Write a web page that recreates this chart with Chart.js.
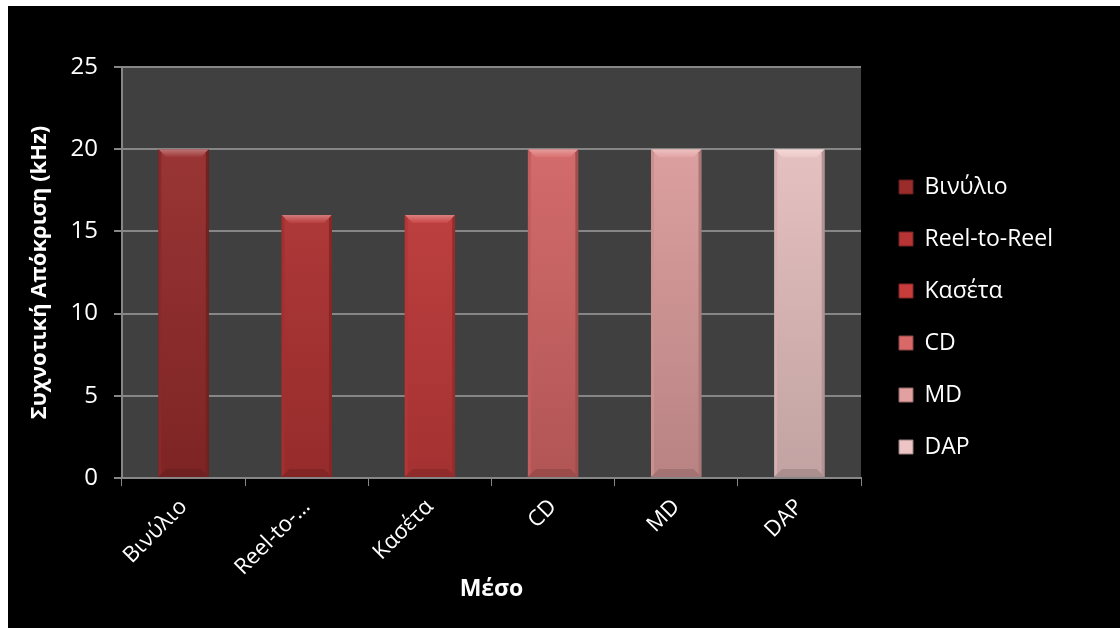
<!DOCTYPE html>
<html>
<head>
<meta charset="utf-8">
<script src="https://cdn.jsdelivr.net/npm/chart.js@4/dist/chart.umd.min.js"></script>
<style>
    html, body { margin: 0; padding: 0; background: #ffffff; }
    #wrap { position: absolute; left: 8px; top: 6px; width: 1112px; height: 622px; background: #000000; }
</style>
</head>
<body>
<div id="wrap"><canvas id="myChart" width="1112" height="622"></canvas></div>
<script>
// Δεδομένα του γραφήματος
const categories = ['Βινύλιο', 'Reel-to-Reel', 'Κασέτα', 'CD', 'MD', 'DAP'];
const responseKHz = [20, 16, 16, 20, 20, 20];
const yTicks = [0, 5, 10, 15, 20, 25];
const barColors = ['#9a2c2c', '#b73434', '#c83c3c', '#d96868', '#e2a0a0', '#edc5c5'];

const fontFamily = "'Open Sans', 'DejaVu Sans', sans-serif";

// Σκουραίνει ή ανοίγει ένα χρώμα
function shade(hex, f) {
    const n = parseInt(hex.slice(1), 16);
    let r = (n >> 16) & 255, g = (n >> 8) & 255, b = n & 255;
    if (f < 0) {
        r = Math.round(r * (1 + f)); g = Math.round(g * (1 + f)); b = Math.round(b * (1 + f));
    } else {
        r = Math.round(r + (255 - r) * f); g = Math.round(g + (255 - g) * f); b = Math.round(b + (255 - b) * f);
    }
    return `rgb(${r},${g},${b})`;
}

// Φάσμα από πάνω προς τα κάτω για κάθε μπάρα
function barFill(context) {
    const chart = context.chart;
    const area = chart.chartArea;
    const base = barColors[context.dataIndex];
    if (!area) return base;
    const grad = chart.ctx.createLinearGradient(0, area.top, 0, area.bottom);
    grad.addColorStop(0, shade(base, 0.06));
    grad.addColorStop(1, shade(base, -0.18));
    return grad;
}

// Ανάγλυφο στις μπάρες (πάνω λοξότμηση, σκούρες άκρες)
const bevelPlugin = {
    id: 'bevel',
    afterDatasetsDraw(chart) {
        const ctx = chart.ctx;
        const meta = chart.getDatasetMeta(0);
        meta.data.forEach((bar, i) => {
            const left = bar.x - bar.width / 2;
            const right = bar.x + bar.width / 2;
            const top = bar.y;
            const bottom = bar.base;
            const b = 8;
            const base = barColors[i];
            ctx.save();
            // πάνω
            const g = ctx.createLinearGradient(0, top, 0, top + b);
            g.addColorStop(0, shade(base, 0.35));
            g.addColorStop(1, shade(base, 0.05));
            ctx.fillStyle = g;
            ctx.beginPath();
            ctx.moveTo(left, top); ctx.lineTo(right, top);
            ctx.lineTo(right - b, top + b); ctx.lineTo(left + b, top + b);
            ctx.closePath(); ctx.fill();
            // αριστερά
            ctx.fillStyle = shade(base, -0.1);
            ctx.beginPath();
            ctx.moveTo(left, top); ctx.lineTo(left + 3, top + 3);
            ctx.lineTo(left + 3, bottom - 3); ctx.lineTo(left, bottom);
            ctx.closePath(); ctx.fill();
            // δεξιά
            ctx.fillStyle = shade(base, -0.25);
            ctx.beginPath();
            ctx.moveTo(right, top); ctx.lineTo(right - 3, top + 3);
            ctx.lineTo(right - 3, bottom - 3); ctx.lineTo(right, bottom);
            ctx.closePath(); ctx.fill();
            // κάτω
            ctx.fillStyle = shade(base, -0.28);
            ctx.beginPath();
            ctx.moveTo(left, bottom); ctx.lineTo(right, bottom);
            ctx.lineTo(right - b, bottom - b); ctx.lineTo(left + b, bottom - b);
            ctx.closePath(); ctx.fill();
            ctx.restore();
        });
    }
};

// Γκρι φόντο της περιοχής σχεδίασης
const plotBgPlugin = {
    id: 'plotBg',
    beforeDraw(chart) {
        const a = chart.chartArea;
        chart.ctx.save();
        chart.ctx.fillStyle = '#404040';
        chart.ctx.fillRect(a.left, a.top, a.right - a.left, a.bottom - a.top);
        chart.ctx.restore();
    }
};

const chartData = {
    labels: categories,
    datasets: [{
        label: 'Συχνοτική Απόκριση',
        data: responseKHz,
        backgroundColor: barFill,
        borderColor: barColors.map(c => shade(c, -0.35)),
        borderWidth: 1,
        categoryPercentage: 1.0,
        barPercentage: 0.41
    }]
};

const config = {
    type: 'bar',
    data: chartData,
    options: {
        responsive: false,
        animation: false,
        layout: { padding: { top: 0, left: 0, right: 57, bottom: 0 } },
        plugins: {
            tooltip: { enabled: false },
            legend: {
                position: 'right',
                maxWidth: 300,
                labels: {
                    color: '#ffffff',
                    font: { family: fontFamily, size: 23 },
                    boxWidth: 14,
                    boxHeight: 14,
                    padding: 29,
                    generateLabels: () => categories.map((c, i) => ({
                        text: c,
                        fillStyle: barColors[i],
                        strokeStyle: shade(barColors[i], -0.35),
                        lineWidth: 1,
                        fontColor: '#ffffff',
                        index: i
                    }))
                }
            }
        },
        scales: {
            x: {
                afterFit: (scale) => { scale.height = 150; },
                grid: {
                    drawOnChartArea: false,
                    drawTicks: true,
                    tickLength: 8,
                    color: '#868686'
                },
                border: { color: '#868686', width: 2 },
                ticks: {
                    color: '#ffffff',
                    font: { family: fontFamily, size: 22 },
                    minRotation: 45,
                    maxRotation: 45,
                    padding: 8,
                    callback: function (value) {
                        const t = this.getLabelForValue(value);
                        return t.length > 9 ? t.slice(0, 8) + '…' : t;
                    }
                },
                title: {
                    display: true,
                    text: 'Μέσο',
                    color: '#ffffff',
                    font: { family: fontFamily, size: 23, weight: 'bold' },
                    padding: { top: 0, bottom: 25 }
                }
            },
            y: {
                min: 0,
                max: 25,
                afterFit: (scale) => { scale.width = 114; },
                afterBuildTicks: (scale) => { scale.ticks = yTicks.map(v => ({ value: v })); },
                grid: {
                    color: '#868686',
                    lineWidth: 2,
                    tickLength: 8
                },
                border: { color: '#868686', width: 2 },
                ticks: {
                    color: '#ffffff',
                    font: { family: fontFamily, size: 24 },
                    padding: 16
                },
                title: {
                    display: true,
                    text: 'Συχνοτική Απόκριση (kHz)',
                    color: '#ffffff',
                    font: { family: fontFamily, size: 22, weight: 'bold' },
                    padding: { top: 19, bottom: 0 }
                }
            },
            // κενό πάνω από την περιοχή σχεδίασης
            gapTop: {
                type: 'linear',
                position: 'top',
                afterFit: (scale) => { scale.height = 61; },
                grid: { display: false },
                border: { display: false },
                ticks: { display: false }
            },
            // κενό ανάμεσα στην περιοχή σχεδίασης και το υπόμνημα
            gap: {
                type: 'linear',
                position: 'right',
                afterFit: (scale) => { scale.width = 9; },
                grid: { display: false },
                border: { display: false },
                ticks: { display: false }
            }
        }
    },
    plugins: [plotBgPlugin, bevelPlugin]
};

var myChart = new Chart(document.getElementById('myChart'), config);
</script>
</body>
</html>
